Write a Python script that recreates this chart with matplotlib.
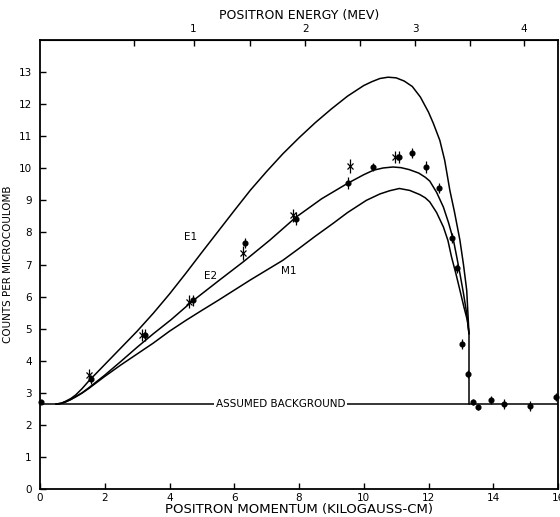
import matplotlib
matplotlib.use("Agg")
import matplotlib.pyplot as plt
import numpy as np

# fond suppose
fond = 2.65

# courbes theoriques
e1_x = [0.5, 0.65, 0.8, 0.95, 1.1, 1.3, 1.5, 2.0, 2.5, 3.0, 3.5, 4.0, 4.5, 5.0, 5.5, 6.0, 6.5, 7.0,
        7.5, 8.0, 8.5, 9.0, 9.5, 10.0, 10.25, 10.5, 10.75, 11.0, 11.25, 11.5, 11.75, 12.0, 12.15,
        12.35, 12.5, 12.66, 12.8, 12.97, 13.08, 13.18, 13.25]
e1_y = [2.65, 2.67, 2.74, 2.82, 2.93, 3.13, 3.36, 3.88, 4.40, 4.92, 5.48, 6.08, 6.72, 7.38, 8.03,
        8.68, 9.32, 9.90, 10.45, 10.95, 11.42, 11.85, 12.25, 12.58, 12.70, 12.80, 12.84, 12.82, 12.72,
        12.55, 12.22, 11.75, 11.40, 10.87, 10.25, 9.31, 8.65, 7.76, 7.00, 6.20, 4.85]

e2_x = [0.5, 0.65, 0.8, 0.95, 1.1, 1.3, 1.5, 2.0, 2.5, 3.0, 3.5, 4.05, 4.7, 5.5, 6.3, 7.1, 7.9,
        8.7, 9.5, 10.0, 10.3, 10.6, 10.9, 11.15, 11.4, 11.7, 11.9, 12.04, 12.25, 12.46, 12.62,
        12.77, 12.87, 12.97, 13.08, 13.18, 13.25]
e2_y = [2.65, 2.67, 2.72, 2.79, 2.88, 3.0, 3.15, 3.55, 3.98, 4.42, 4.84, 5.28, 5.85, 6.48, 7.10,
        7.76, 8.47, 9.05, 9.53, 9.80, 9.94, 10.01, 10.04, 10.02, 9.96, 9.85, 9.72, 9.60, 9.25, 8.79,
        8.30, 7.76, 7.25, 6.72, 6.10, 5.47, 4.85]

m1_x = [0.5, 0.65, 0.8, 0.95, 1.1, 1.3, 1.5, 2.0, 2.5, 3.0, 3.5, 4.0, 4.51, 5.0, 5.5, 6.0, 6.5,
        7.09, 7.5, 8.0, 8.5, 9.05, 9.5, 10.08, 10.5, 10.8, 11.1, 11.42, 11.73, 11.9, 12.04, 12.25,
        12.46, 12.6, 12.71, 12.85, 12.97, 13.1, 13.2, 13.25]
m1_y = [2.65, 2.67, 2.72, 2.79, 2.87, 2.99, 3.13, 3.51, 3.87, 4.21, 4.55, 4.92, 5.26, 5.57, 5.88,
        6.20, 6.52, 6.88, 7.13, 7.50, 7.88, 8.28, 8.62, 9.00, 9.20, 9.30, 9.37, 9.31, 9.18, 9.08,
        8.95, 8.62, 8.17, 7.75, 7.24, 6.70, 6.20, 5.65, 5.26, 4.85]

coupure_x = 13.25

# points mesures : croix
croix_x = [1.50, 3.15, 4.61, 6.26, 7.81, 9.59, 10.95]
croix_y = [3.55, 4.80, 5.84, 7.36, 8.54, 10.06, 10.35]
croix_err = [0.18, 0.20, 0.20, 0.22, 0.20, 0.22, 0.20]

# points mesures : ronds
ronds_x = [0.02, 1.59, 3.25, 4.74, 6.34, 7.92, 9.51, 10.29, 11.09, 11.50, 11.91, 12.31,
           12.73, 12.89, 13.02, 13.22, 13.36, 13.52, 13.92, 14.33, 15.14, 15.94]
ronds_y = [2.72, 3.42, 4.80, 5.89, 7.67, 8.43, 9.54, 10.04, 10.35, 10.48, 10.04, 9.39,
           7.83, 6.88, 4.52, 3.58, 2.71, 2.56, 2.77, 2.65, 2.59, 2.86]
ronds_err = [0.05, 0.15, 0.20, 0.17, 0.15, 0.20, 0.20, 0.12, 0.20, 0.15, 0.20, 0.15,
             0.15, 0.15, 0.15, 0.12, 0.10, 0.10, 0.12, 0.15, 0.15, 0.12]

energie_ticks = [1, 2, 3, 4]
energie_minor = [0.5, 1.5, 2.5, 3.5]


def mom_to_energy(b):
    p = np.asarray(b, dtype=float) * 0.29979
    return np.sqrt(p ** 2 + 0.511 ** 2) - 0.511


def energy_to_mom(t):
    t = np.clip(np.asarray(t, dtype=float), 0, None)
    return np.sqrt(t ** 2 + 2 * t * 0.511) / 0.29979


fig = plt.figure(figsize=(5.6, 5.17), dpi=100)
ax = fig.add_axes([40 / 560, 28 / 517, 518 / 560, 449 / 517])

ax.axhline(fond, color='black', lw=1.1)
ax.plot(e1_x, e1_y, color='black', lw=1.1)
ax.plot(e2_x, e2_y, color='black', lw=1.1)
ax.plot(m1_x, m1_y, color='black', lw=1.1)
ax.plot([coupure_x, coupure_x], [4.85, fond], color='black', lw=1.1)

ax.errorbar(croix_x, croix_y, yerr=croix_err, fmt='x', ms=4, mew=0.9, color='black',
            elinewidth=0.9, capsize=0, clip_on=False)
ax.errorbar(ronds_x, ronds_y, yerr=ronds_err, fmt='o', ms=3.4, color='black',
            elinewidth=0.9, capsize=0, clip_on=False)

ax.text(7.43, fond, 'ASSUMED BACKGROUND', fontsize=7.5, ha='center', va='center',
        bbox=dict(facecolor='white', edgecolor='none', pad=1.5))
ax.text(4.64, 7.87, 'E1', fontsize=7.5, ha='center', va='center')
ax.text(5.28, 6.65, 'E2', fontsize=7.5, ha='center', va='center')
ax.text(7.68, 6.79, 'M1', fontsize=7.5, ha='center', va='center')

ax.set_xlim(0, 16)
ax.set_ylim(0, 14)
ax.set_xticks(range(0, 17, 2))
ax.set_yticks(range(0, 14))
ax.tick_params(direction='in', length=4, width=1, labelsize=7.5, pad=3)
ax.tick_params(axis='y', pad=6)
ax.set_xlabel('POSITRON MOMENTUM (KILOGAUSS-CM)', fontsize=9.5, labelpad=0)
ax.set_ylabel('COUNTS PER MICROCOULOMB', fontsize=7.5, labelpad=4)
for s in ax.spines.values():
    s.set_linewidth(1.3)

sec = ax.secondary_xaxis('top', functions=(mom_to_energy, energy_to_mom))
sec.set_xticks(energie_ticks)
sec.set_xticks(energie_minor, minor=True)
sec.tick_params(which='both', direction='in', length=4, width=1, labelsize=7.5, pad=4)
sec.set_xlabel('POSITRON ENERGY (MEV)', fontsize=9, labelpad=4)

fig.savefig('out.png', dpi=100)
